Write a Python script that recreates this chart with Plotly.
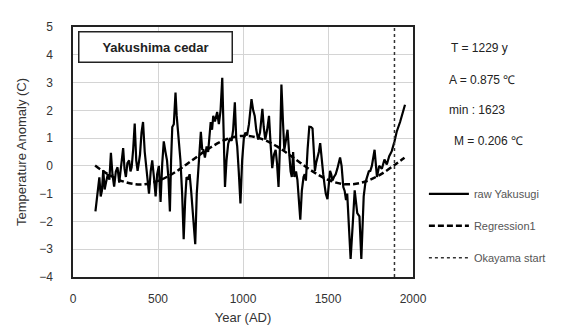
import plotly.graph_objects as go

# Raw Yakusugi reconstruction
raw_years = [132,145,155,163,170,178,186,194,205,214,223,232,242,252,262,272,283,295,303,311,
             320,330,338,345,354,363,372,380,387,394,403,412,422,431,440,447,457,466,476,486,
             495,505,510,515,525,534,544,553,562,570,577,584,593,603,610,617,625,632,642,651,
             660,668,676,686,695,703,711,719,728,740,752,760,767,776,786,795,800,810,818,825,
             835,848,858,868,878,886,894,903,913,923,933,942,952,960,966,975,985,995,1005,1014,
             1024,1035,1050,1060,1069,1078,1089,1100,1114,1122,1131,1142,1153,1162,1172,1182,1192,1200,1209,1218,
             1226,1235,1243,1252,1262,1270,1280,1287,1295,1302,1312,1320,1330,1337,1346,1356,1363,1370,1380,1390,
             1400,1409,1416,1423,1430,1439,1446,1454,1462,1472,1480,1487,1497,1505,1512,1519,1526,1535,1545,1555,
             1564,1571,1580,1590,1598,1606,1613,1623,1633,1646,1657,1672,1685,1696,1710,1720,1729,1740,1749,1758,
             1774,1788,1801,1817,1832,1846,1860,1875,1891,1904,1924,1953]
raw_values = [-1.64,-0.9,-0.41,-1.1,-0.9,-0.15,-0.85,-0.6,-0.3,-0.5,0.47,-0.3,-0.75,-0.2,-0.05,-0.6,0.1,0.64,-0.1,-0.4,
              0.1,0.2,-0.2,-0.05,0.6,1.52,0.2,-0.18,0.1,0.4,1.2,1.58,0.5,0.0,-0.6,-1.0,-0.2,0.2,-0.4,-1.1,
              -0.3,0.0,-0.6,-1.3,0.1,0.88,0.5,0.2,-0.5,-1.64,0.2,1.4,1.5,2.64,1.8,1.3,0.8,0.2,-1.0,-2.64,
              -1.2,-0.4,-0.5,-0.3,-0.9,-1.5,-2.2,-2.82,-1.0,0.2,1.23,0.6,0.58,0.3,0.7,0.5,0.9,1.58,1.3,1.8,
              1.6,1.94,1.5,2.0,3.17,1.0,-0.76,0.2,0.8,1.0,0.9,1.3,2.29,1.0,0.7,-0.2,-1.35,0.2,1.0,1.2,
              1.1,1.5,2.4,2.0,1.8,1.3,0.95,1.2,2.05,1.4,0.95,1.3,1.8,0.8,-0.08,0.4,0.58,0.1,-0.76,0.8,
              2.93,1.6,0.58,0.9,1.3,0.6,-0.2,-0.4,0.5,-0.4,-0.2,-0.5,-1.3,-1.94,-0.9,-0.4,-0.3,-0.53,0.6,1.41,
              1.4,1.35,0.6,-0.18,0.1,0.3,0.5,0.82,0.2,-0.3,-0.7,-1.0,-1.2,-0.6,-0.18,-0.3,-0.53,-0.4,-0.3,-0.1,
              0.2,0.3,0.0,-0.76,-0.9,-1.23,-1.0,-2.0,-3.35,-2.05,-0.88,-1.7,-1.82,-3.35,-1.1,-0.6,-0.4,-0.2,-0.18,0.0,
              0.58,-0.4,0.0,-0.1,0.23,0.05,0.35,0.53,0.88,1.23,1.58,2.2]

# Regression curve
reg_years = [130,200,300,400,500,600,700,800,900,1000,1100,1200,1300,1400,1500,1600,1700,1800,1900,1950]
reg_values = [0.01,-0.28,-0.57,-0.67,-0.54,-0.23,0.20,0.63,0.95,1.08,0.99,0.70,0.28,-0.16,-0.50,-0.66,-0.60,-0.34,0.07,0.29]

# Okayama observation start
okayama_year = 1891
y_range = [-4, 5]

x_ticks = [0, 500, 1000, 1500, 2000]
y_ticks = [-4, -3, -2, -1, 0, 1, 2, 3, 4, 5]

stats_text = ["T = 1229 y", "A = 0.875 \u2103", "min : 1623", "M = 0.206 \u2103"]
stats_xpx = [449, 447, 447, 452]
stats_ypx = [43, 76, 107, 139]

fig = go.Figure()
fig.add_trace(go.Scatter(x=raw_years, y=raw_values, mode="lines", name="raw Yakusugi",
                         line=dict(color="black", width=2.2), legendgroup="a"))
fig.add_trace(go.Scatter(x=reg_years, y=reg_values, mode="lines", name="Regression1",
                         line=dict(color="black", width=2.5, dash="6px,3px", shape="spline"), legendgroup="b"))
fig.add_trace(go.Scatter(x=[okayama_year, okayama_year], y=y_range, mode="lines", name="Okayama start",
                         line=dict(color="#333333", width=1.5, dash="3px,3px"), legendgroup="c"))

# page body has an 8px margin; work in window pixel coordinates
OFF = 8
L, R, T, B = 70 - OFF, 413 - OFF, 22 - OFF, 278 - OFF
W, H = 577 - OFF, 335 - OFF
pw, ph = R - L, B - T

def px(xp):
    return (xp - OFF - L) / pw

def py(yp):
    return (B - (yp - OFF)) / ph

for txt, xx, yy in zip(stats_text, stats_xpx, stats_ypx):
    fig.add_annotation(text=txt, xref="paper", yref="paper", x=px(xx), y=py(yy),
                       xanchor="left", yanchor="middle", showarrow=False,
                       font=dict(family="Liberation Sans", size=12, color="#222222"))

fig.add_annotation(text="<b>Yakushima cedar</b>", xref="paper", yref="paper",
                   x=px(75), y=py(26), xanchor="left", yanchor="top", showarrow=False,
                   width=150, height=27, bordercolor="#222222", borderwidth=1.5, borderpad=1,
                   bgcolor="white", font=dict(family="Liberation Sans", size=13, color="#222222"))

fig.update_layout(
    width=W, height=H,
    margin=dict(l=L, r=W - R, t=T, b=H - B),
    paper_bgcolor="white", plot_bgcolor="white",
    showlegend=True,
    legend=dict(x=px(424), y=py(178), xanchor="left", yanchor="top",
                font=dict(family="Liberation Sans Narrow, Liberation Sans", size=11, color="#555555"),
                tracegroupgap=13, bgcolor="rgba(0,0,0,0)", itemwidth=40),
    xaxis=dict(range=[0, 2000], tickvals=x_ticks, showgrid=True, gridcolor="#d4d4d4", gridwidth=1,
               showline=True, linecolor="#222222", linewidth=1.5, mirror=True, zeroline=False,
               ticks="", ticklabelstandoff=10,
               tickfont=dict(family="Liberation Sans", size=12, color="#333333"),
               title=dict(text="Year (AD)", font=dict(family="Liberation Sans", size=13, color="#333333"), standoff=8)),
    yaxis=dict(range=y_range, tickvals=y_ticks, showgrid=True, gridcolor="#d4d4d4", gridwidth=1,
               showline=True, linecolor="#222222", linewidth=1.5, mirror=True, zeroline=False,
               ticks="", ticklabelstandoff=16,
               tickfont=dict(family="Liberation Sans", size=12, color="#333333"),
               title=dict(text="Temperature Anomaly (C)", font=dict(family="Liberation Sans", size=13, color="#333333"), standoff=10)),
)

fig.write_html("out.html")
